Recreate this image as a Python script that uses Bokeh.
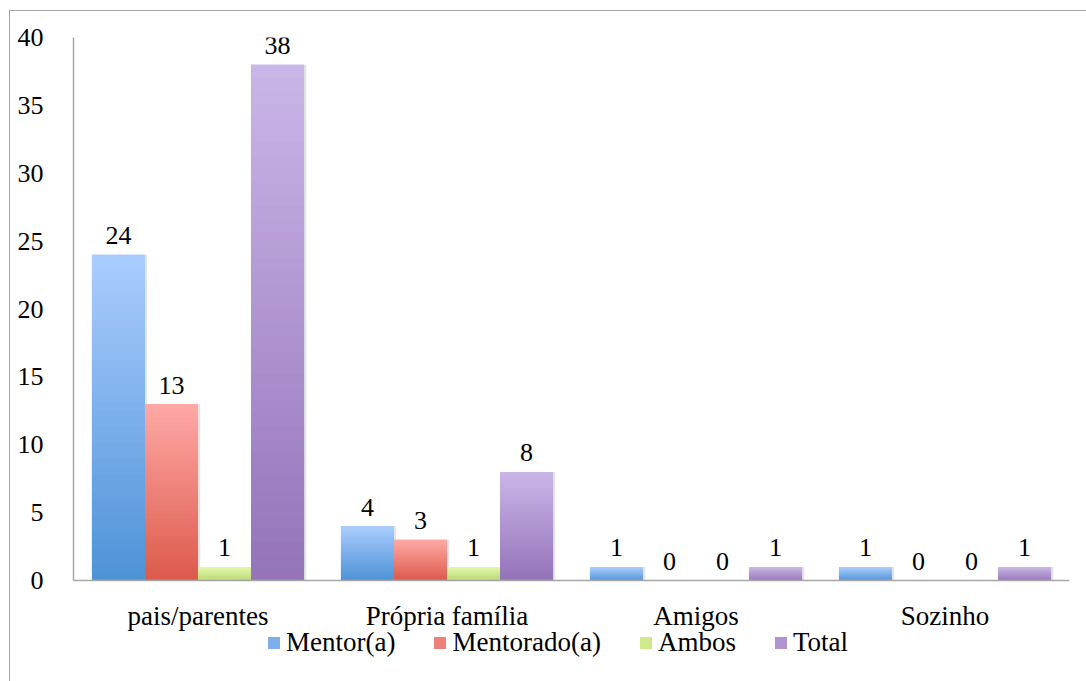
from bokeh.plotting import figure
from bokeh.models import (FactorRange, Range1d, ColumnDataSource, Legend, LegendItem,
                          SingleIntervalTicker, InlineStyleSheet)
from bokeh.transform import dodge
from bokeh.core.properties import value
from bokeh.embed import file_html
from bokeh.resources import INLINE

# Data
categories = ["pais/parentes", "Própria família", "Amigos", "Sozinho"]
series_names = ["Mentor(a)", "Mentorado(a)", "Ambos", "Total"]
mentor = [24, 4, 1, 1]
mentorado = [13, 3, 0, 0]
ambos = [1, 1, 0, 0]
total = [38, 8, 1, 1]
y_max = 40
y_step = 5

# Styling: (bottom colour, top colour) of each series' vertical gradient
gradients = [
    ("#4e92d6", "#aacdff"),
    ("#dc5a4b", "#ffa9a6"),
    ("#b9d870", "#e3f9a8"),
    ("#9473b9", "#cab6e8"),
]
FONT = "Liberation Serif"
bar_w = 0.213
offsets = [-1.5 * bar_w, -0.5 * bar_w, 0.5 * bar_w, 1.5 * bar_w]
N_SLICES = 40

# plot area: value axis spans 543 px; 101 px below the zero line hold
# the category labels and the legend
AXIS_PX, BELOW_PX = 543, 101
y_lo = -y_max * BELOW_PX / AXIS_PX


def mix(c1, c2, t):
    a = [int(c1[i:i + 2], 16) for i in (1, 3, 5)]
    b = [int(c2[i:i + 2], 16) for i in (1, 3, 5)]
    return "#" + "".join(f"{round(a[j] + (b[j] - a[j]) * t):02x}" for j in range(3))


p = figure(width=1086, height=681, x_range=FactorRange(*categories),
           y_range=Range1d(y_lo, y_max), output_backend="svg", toolbar_location=None,
           min_border_left=73, min_border_right=17, min_border_top=37,
           min_border_bottom=0)
p.outline_line_color = None
p.xgrid.grid_line_color = None
p.ygrid.grid_line_color = None
p.background_fill_color = "white"
p.border_fill_color = "white"

# thin grey frame around the whole chart object
p.stylesheets = [InlineStyleSheet(css="""
:host { position: relative; }
:host::after {
  content: ""; position: absolute; left: 9px; top: 10px;
  width: 2000px; height: 2000px; border: 1.5px solid #a6a6a6;
  pointer-events: none; z-index: 10;
}
""")]

all_series = [mentor, mentorado, ambos, total]
legend_items = []
for name, vals, (c_lo, c_hi), off in zip(series_names, all_series, gradients, offsets):
    # soft drop shadow behind each bar
    shadow = ColumnDataSource(dict(cat=categories, top=vals))
    p.vbar(x=dodge("cat", off + 0.009, range=p.x_range), top="top", bottom=0,
           width=bar_w, source=shadow, fill_color="#000000", fill_alpha=0.10,
           line_color=None)

    # gradient: stacked slices, each overlapping the next so no seams show
    cats, bots, tops, cols = [], [], [], []
    for c, v in zip(categories, vals):
        n = N_SLICES if v > 0 else 0
        for k in range(n):
            cats.append(c)
            bots.append(v * k / n)
            tops.append(v * min(k + 2, n) / n)
            cols.append(mix(c_lo, c_hi, (k + 0.5) / n))
    src = ColumnDataSource(dict(cat=cats, bottom=bots, top=tops, color=cols))
    r = p.vbar(x=dodge("cat", off, range=p.x_range), top="top", bottom="bottom",
               width=bar_w, source=src, fill_color="color", line_color=None)
    legend_items.append(LegendItem(label=name, renderers=[r], index=N_SLICES // 2))

    lab = ColumnDataSource(dict(cat=categories, y=vals, t=[str(v) for v in vals]))
    p.text(x=dodge("cat", off, range=p.x_range), y="y", text="t", source=lab,
           text_align="center", text_baseline="alphabetic", y_offset=-19,
           text_font=value(FONT), text_font_size="26px", text_color="#000000")

# axes: category axis sits on the zero line, value axis runs 0..40
p.xaxis.fixed_location = 0
p.yaxis.bounds = (0, y_max)
p.yaxis.ticker = SingleIntervalTicker(interval=y_step)
for ax in (p.xaxis[0], p.yaxis[0]):
    ax.axis_line_color = "#a6a6a6"
    ax.axis_line_width = 1.5
    ax.major_tick_line_color = None
    ax.minor_tick_line_color = None
    ax.major_label_text_font = FONT
    ax.major_label_text_color = "#000000"
p.yaxis.major_label_text_font_size = "26px"
p.xaxis.major_label_text_font_size = "27px"
p.yaxis.major_label_standoff = 24
p.xaxis.major_label_standoff = 14

legend = Legend(items=legend_items, orientation="horizontal", location=(193, 23),
                glyph_width=15, glyph_height=15, label_standoff=5, spacing=37,
                padding=0, margin=0, border_line_color=None,
                background_fill_alpha=0, label_text_font=FONT,
                label_text_font_size="27px", label_text_color="#000000")
p.add_layout(legend, "center")

open("out.html", "w").write(file_html(p, INLINE))
